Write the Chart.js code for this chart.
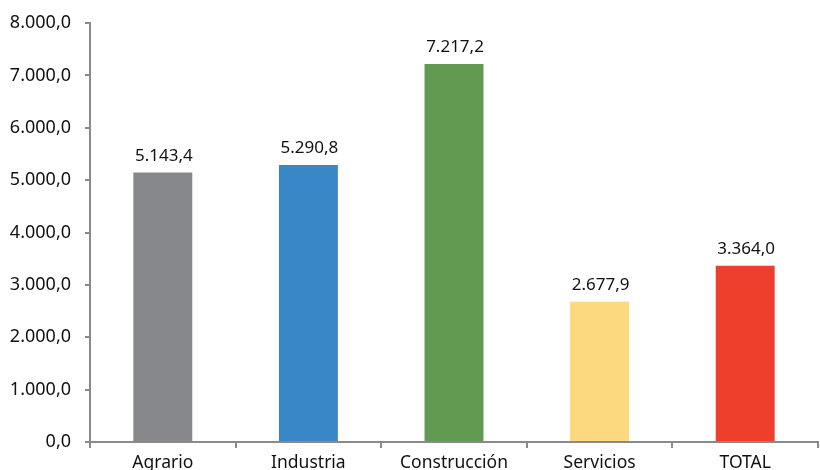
<!DOCTYPE html>
<html>
<head>
<meta charset="utf-8">
<script src="https://cdn.jsdelivr.net/npm/chart.js@4/dist/chart.umd.min.js"></script>
<style>
  html, body { margin: 0; padding: 0; background: #fff; overflow: hidden; }
  #wrap { width: 820px; height: 490px; position: relative; }
</style>
</head>
<body>
<div id="wrap"><canvas id="chart"></canvas></div>
<script>
// categories and values
const categories = ['Agrario', 'Industria', 'Construcción', 'Servicios', 'TOTAL']
const values = [5143.4, 5290.8, 7217.2, 2677.9, 3364.0]
const barColors = ['#87888c', '#3a87c8', '#629a52', '#fcd97e', '#ee3f2c']

const fontFamily = '"Noto Sans", "Open Sans", sans-serif'

function fmt(v) {
    // spanish style: 8.000,0
    return v.toLocaleString('es-ES', {minimumFractionDigits: 1, maximumFractionDigits: 1, useGrouping: 'always'})
}

// draw the value on top of each bar
const valueLabels = {
    id: 'valueLabels',
    afterDatasetsDraw(chart) {
        const ctx = chart.ctx
        const meta = chart.getDatasetMeta(0)
        ctx.save()
        ctx.font = '17px ' + fontFamily
        ctx.fillStyle = '#111'
        ctx.textAlign = 'center'
        ctx.textBaseline = 'bottom'
        meta.data.forEach(function(bar, i) {
            ctx.fillText(fmt(values[i]), bar.x + 1, bar.y - 8)
        })
        ctx.restore()
    }
}

new Chart(document.getElementById('chart'), {
    type: 'bar',
    data: {
        labels: categories,
        datasets: [{
            data: values,
            backgroundColor: barColors,
            barPercentage: 0.8,
            categoryPercentage: 0.506
        }]
    },
    options: {
        responsive: true,
        maintainAspectRatio: false,
        animation: false,
        layout: {padding: {top: 10, right: 2, bottom: 20, left: 0}},
        plugins: {legend: {display: false}, tooltip: {enabled: false}},
        scales: {
            x: {
                afterFit: function(scale) { scale.height = 28 },
                grid: {offset: true, drawOnChartArea: false, tickLength: 6, color: '#8a8a8a', lineWidth: 2},
                border: {color: '#8a8a8a', width: 2},
                ticks: {color: '#111', font: {size: 17.5, family: fontFamily}, padding: 5}
            },
            y: {
                min: 0,
                max: 8000,
                afterFit: function(scale) { scale.width = 90 },
                grid: {drawOnChartArea: false, tickLength: 5, color: '#8a8a8a', lineWidth: 2},
                border: {color: '#8a8a8a', width: 2},
                ticks: {
                    stepSize: 1000,
                    color: '#111',
                    font: {size: 18, family: fontFamily, lineHeight: 1},
                    padding: 14,
                    callback: function(v) { return fmt(v) }
                }
            }
        }
    },
    plugins: [valueLabels]
})
</script>
</body>
</html>
